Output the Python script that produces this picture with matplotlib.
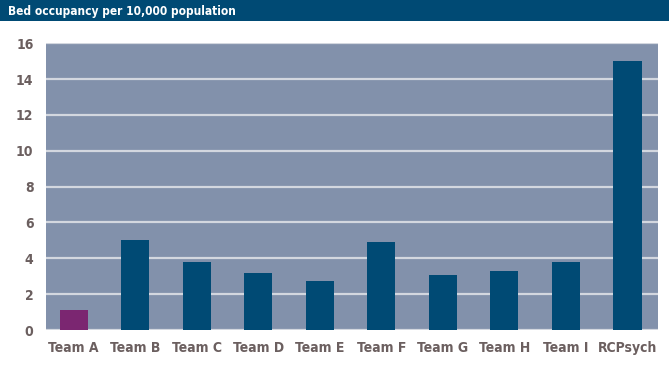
import matplotlib
matplotlib.use("Agg")
import matplotlib.pyplot as plt
from matplotlib.patches import Rectangle

title = "Bed occupancy per 10,000 population"
categories = ["Team A", "Team B", "Team C", "Team D", "Team E",
              "Team F", "Team G", "Team H", "Team I", "RCPsych"]
values = [1.1, 5.05, 3.8, 3.2, 2.75, 4.93, 3.05, 3.28, 3.8, 15.0]
yticks = [0, 2, 4, 6, 8, 10, 12, 14, 16]

navy = "#004a74"
purple = "#7b2671"
bg = "#8291ab"
grid = "#d3d7df"
txt = "#6b5f5f"
colors = [purple] + [navy] * (len(categories) - 1)

font = ["DejaVu Sans"]

fig = plt.figure(figsize=(6.69, 3.67), dpi=100)
fig.patch.set_facecolor("white")

# title band
fig.patches.append(Rectangle((0, 1 - 20.7 / 367), 1, 20.7 / 367,
                             transform=fig.transFigure, facecolor=navy,
                             edgecolor="none", zorder=0))
fig.text(8 / 669, 1 - 11 / 367, title, color="white", fontsize=8.6,
         fontweight="bold", family=font, fontstretch="condensed",
         va="center", ha="left")

ax = fig.add_axes([46 / 669, (367 - 330) / 367, (657.5 - 46) / 669,
                   (330 - 43.3) / 367])
ax.set_facecolor(bg)
x = list(range(len(categories)))
ax.bar(x, values, width=0.46, color=colors, zorder=3)
ax.set_xlim(-0.45, 9.49)
ax.set_ylim(0, 16)
ax.set_yticks(yticks)
ax.set_xticks(x)
ax.set_xticklabels(categories)
ax.grid(axis="y", color=grid, linewidth=1.6, zorder=1)
ax.set_axisbelow(True)
for s in ax.spines.values():
    s.set_visible(False)
ax.tick_params(length=0, pad=8, labelsize=10, labelcolor=txt)
ax.tick_params(axis="y", pad=9)
for lab in ax.get_xticklabels() + ax.get_yticklabels():
    lab.set_fontweight("bold")
    lab.set_family(font)
    lab.set_fontstretch("condensed")

fig.savefig("out.png", dpi=100)
